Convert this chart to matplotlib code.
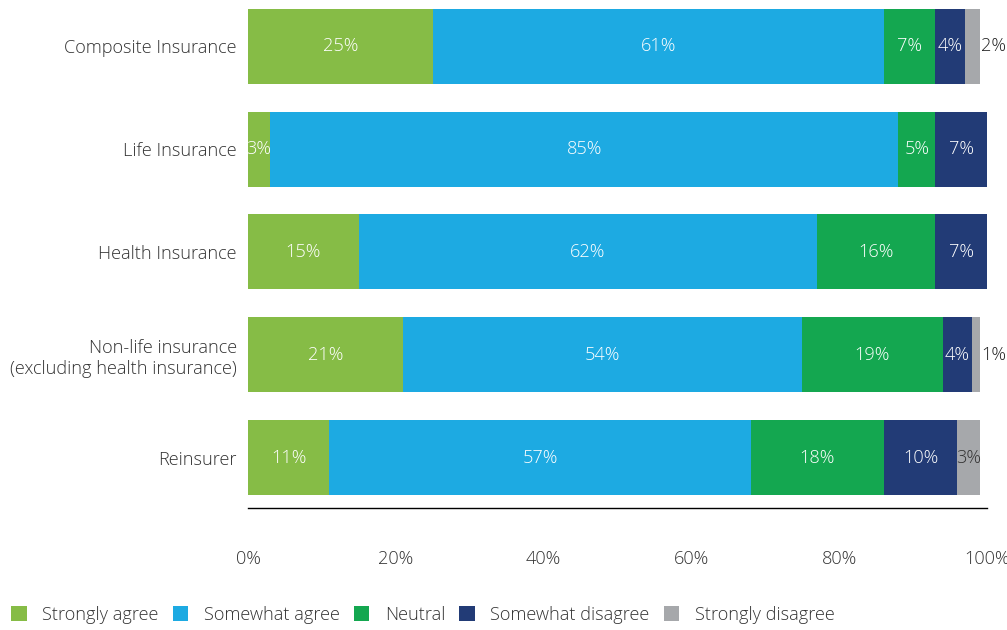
import numpy as np
import matplotlib.pyplot as plt
from matplotlib.patches import Patch

plt.rcParams['font.family'] = ['Open Sans', 'DejaVu Sans']
plt.rcParams['font.weight'] = 'light'

categories = ['Composite Insurance', 'Life Insurance', 'Health Insurance',
              'Non-life insurance\n(excluding health insurance)', 'Reinsurer']
series = ['Strongly agree', 'Somewhat agree', 'Neutral',
          'Somewhat disagree', 'Strongly disagree']
strongly_agree = [25, 3, 15, 21, 11]
somewhat_agree = [61, 85, 62, 54, 57]
neutral = [7, 5, 16, 19, 18]
somewhat_disagree = [4, 7, 7, 4, 10]
strongly_disagree = [2, 0, 0, 1, 3]
xticks = [0, 20, 40, 60, 80, 100]

colors = ['#86BC46', '#1DAAE2', '#14A750', '#223B76', '#A6A8AB']
values = [strongly_agree, somewhat_agree, neutral, somewhat_disagree, strongly_disagree]
fs = 13.1

fig = plt.figure(figsize=(10.07, 6.3), dpi=100)
ax = fig.add_axes([248 / 1007, 1 - 508 / 630, (987 - 248) / 1007, 508 / 630])

y = np.arange(len(categories))
left = np.zeros(len(categories))
for vals, col, name in zip(values, colors, series):
    vals = np.array(vals, dtype=float)
    ax.barh(y, vals, left=left, height=0.73, color=col, edgecolor='none', label=name)
    for i, v in enumerate(vals):
        if v == 0:
            continue
        if v <= 2:
            ax.text(left[i] + v + 0.25, y[i], f'{int(v)}%', ha='left', va='center',
                    fontsize=fs, color='#222222')
        else:
            tc = '#333333' if col == '#A6A8AB' else 'white'
            ax.text(left[i] + v / 2, y[i], f'{int(v)}%', ha='center', va='center',
                    fontsize=fs, color=tc)
    left += vals

ax.set_xlim(0, 100)
ax.set_ylim(4.49, -0.45)
ax.set_yticks(y)
ax.set_yticklabels(categories, fontsize=fs, color='#333333')
ax.set_xticks(xticks)
ax.set_xticklabels([f'{t}%' for t in xticks], fontsize=fs, color='#333333')
ax.tick_params(axis='both', length=0)
ax.tick_params(axis='x', pad=30)
ax.tick_params(axis='y', pad=8)
for s in ['top', 'right', 'left']:
    ax.spines[s].set_visible(False)
ax.spines['bottom'].set_color('black')
ax.spines['bottom'].set_linewidth(1)

handles = [Patch(facecolor=c, edgecolor='none') for c in colors]
fig.legend(handles, series, loc='center left', bbox_to_anchor=(-0.005, 1 - 615 / 630),
           ncol=5, frameon=False, fontsize=fs, handlelength=0.85, handleheight=0.85,
           handletextpad=0.85, columnspacing=0.78, labelcolor='#333333')

fig.savefig('out.png', dpi=100)
